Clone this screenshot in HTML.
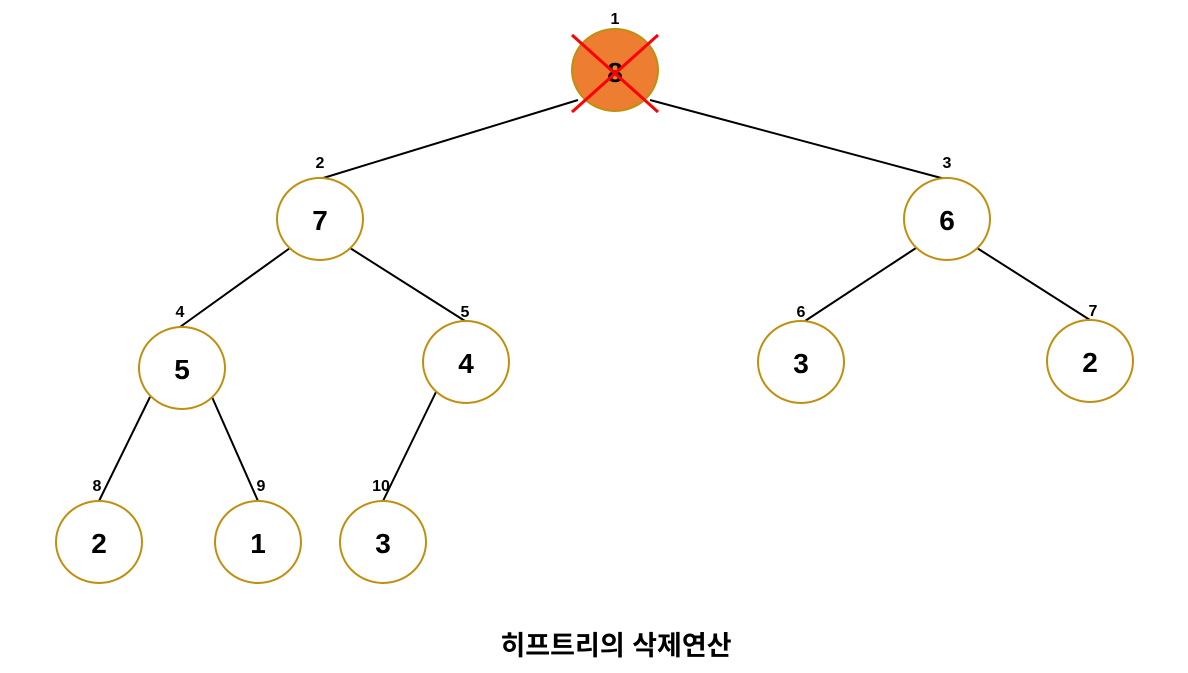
<!DOCTYPE html>
<html><head><meta charset="utf-8"><style>
html,body{margin:0;padding:0;background:#fff;}
svg text{font-family:"Liberation Sans","Noto Sans CJK KR",sans-serif;}
</style></head><body>
<svg width="1188" height="668" viewBox="0 0 1188 668" xmlns="http://www.w3.org/2000/svg">
<g stroke="#000" stroke-width="2" fill="none">
<line x1="578" y1="100" x2="320" y2="179"/>
<line x1="650" y1="100" x2="945" y2="179"/>
<line x1="290" y1="248" x2="180" y2="327"/>
<line x1="350" y1="248" x2="465" y2="321"/>
<line x1="916" y1="248" x2="805" y2="321"/>
<line x1="977" y1="248" x2="1090" y2="320"/>
<line x1="150" y1="397" x2="99" y2="501"/>
<line x1="212" y1="397" x2="258" y2="501"/>
<line x1="436" y1="392" x2="383" y2="501"/>
</g>
<g stroke="#bf900f" stroke-width="2" fill="#fff">
<ellipse cx="615" cy="70" rx="43" ry="41" fill="#ed7d31"/>
<ellipse cx="320" cy="219" rx="43" ry="41"/>
<ellipse cx="947" cy="219" rx="43" ry="41"/>
<ellipse cx="182" cy="368" rx="43" ry="41"/>
<ellipse cx="466" cy="362" rx="43" ry="41"/>
<ellipse cx="801" cy="362" rx="43" ry="41"/>
<ellipse cx="1090" cy="361" rx="43" ry="41"/>
<ellipse cx="99" cy="542" rx="43" ry="41"/>
<ellipse cx="258" cy="542" rx="43" ry="41"/>
<ellipse cx="383" cy="542" rx="43" ry="41"/>
</g>
<g font-size="28" font-weight="bold" text-anchor="middle" fill="#000">
<text x="615" y="82">8</text>
<text x="320" y="230">7</text>
<text x="947" y="230">6</text>
<text x="182" y="379">5</text>
<text x="466" y="373">4</text>
<text x="801" y="373">3</text>
<text x="1090" y="372">2</text>
<text x="99" y="553">2</text>
<text x="258" y="553">1</text>
<text x="383" y="553">3</text>
</g>
<g stroke="#ff0000" stroke-width="3">
<line x1="572" y1="35" x2="658" y2="112"/>
<line x1="658" y1="35" x2="572" y2="112"/>
</g>
<g font-size="16" font-weight="bold" text-anchor="middle" fill="#000">
<text x="615" y="24">1</text>
<text x="320" y="168">2</text>
<text x="947" y="168">3</text>
<text x="180" y="317">4</text>
<text x="465" y="317">5</text>
<text x="801" y="317">6</text>
<text x="1093" y="316">7</text>
<text x="97" y="491">8</text>
<text x="261" y="491">9</text>
<text x="381" y="491">10</text>
</g>
<text x="616" y="655" font-size="27" font-weight="bold" text-anchor="middle">히프트리의 삭제연산</text>
</svg>
</body></html>
